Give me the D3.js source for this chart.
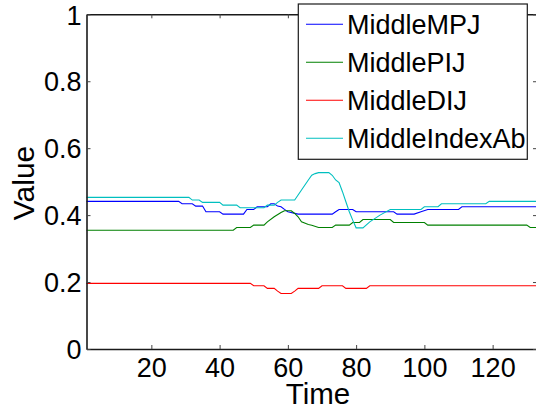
<!DOCTYPE html>
<html>
<head>
<meta charset="utf-8">
<script src="https://cdn.jsdelivr.net/npm/d3@7"></script>
<style>
  html, body { margin: 0; padding: 0; background: #fff; }
  svg text { font-family: "Liberation Sans", Arial, Helvetica, sans-serif; fill: #000; }
</style>
</head>
<body>
<svg id="chart" width="536" height="411"></svg>
<script>
// Joint-angle traces over time (breakpoints of each trace)
const seriesNames = ["MiddleMPJ", "MiddlePIJ", "MiddleDIJ", "MiddleIndexAb"];
const seriesColors = ["#0000ff", "#008000", "#ff0000", "#00bfbf"];

const mpjTime  = [1, 28, 29, 32, 33, 35, 36, 40, 41, 47, 48, 50, 51, 54, 55, 56, 57, 58, 59, 60, 63, 73, 74, 75, 79, 80, 91, 92, 97, 99, 101, 110, 111, 133];
const mpjValue = [0.441, 0.441, 0.434, 0.434, 0.427, 0.427, 0.410, 0.410, 0.403, 0.403, 0.417, 0.417, 0.425, 0.425, 0.434, 0.434, 0.427, 0.425, 0.417, 0.410, 0.403, 0.403, 0.410, 0.417, 0.417, 0.410, 0.410, 0.403, 0.403, 0.410, 0.417, 0.417, 0.425, 0.425];

const pijTime  = [1, 44, 45, 49, 50, 53, 54, 56, 58, 59, 61, 62, 63, 64, 66, 67, 69, 73, 74, 78, 79, 81, 82, 90, 91, 100, 101, 130, 131, 133];
const pijValue = [0.355, 0.355, 0.363, 0.363, 0.370, 0.370, 0.380, 0.395, 0.408, 0.413, 0.413, 0.405, 0.395, 0.380, 0.372, 0.370, 0.363, 0.363, 0.370, 0.370, 0.378, 0.378, 0.387, 0.387, 0.378, 0.378, 0.370, 0.370, 0.363, 0.363];

const dijTime  = [1, 49, 50, 53, 54, 56, 57, 58, 61, 62, 63, 69, 70, 76, 77, 83, 84, 133];
const dijValue = [0.196, 0.196, 0.189, 0.189, 0.181, 0.181, 0.173, 0.166, 0.166, 0.173, 0.181, 0.181, 0.189, 0.189, 0.181, 0.181, 0.189, 0.189];

const abTime  = [1, 31, 32, 34, 35, 40, 41, 45, 46, 53, 54, 56, 57, 58, 62, 63, 64, 66, 67, 68, 69, 72, 73, 74, 75, 76, 77, 78, 79, 80, 82, 84, 87, 90, 99, 100, 104, 105, 118, 119, 133];
const abValue = [0.453, 0.453, 0.445, 0.445, 0.438, 0.438, 0.430, 0.430, 0.422, 0.422, 0.430, 0.430, 0.438, 0.445, 0.445, 0.460, 0.475, 0.505, 0.519, 0.524, 0.527, 0.527, 0.519, 0.505, 0.497, 0.470, 0.440, 0.410, 0.385, 0.362, 0.362, 0.380, 0.400, 0.417, 0.417, 0.425, 0.425, 0.434, 0.434, 0.441, 0.441];

const xTicks = [20, 40, 60, 80, 100, 120];
const yTicks = [0, 0.2, 0.4, 0.6, 0.8, 1];
const yTickLabels = ["0", "0.2", "0.4", "0.6", "0.8", "1"];

const seriesTimes = [mpjTime, pijTime, dijTime, abTime];
const seriesValues = [mpjValue, pijValue, dijValue, abValue];

const frame = { left: 86.5, top: 14.3, right: 537, bottom: 349 };
const svg = d3.select("#chart");

const x = d3.scaleLinear().domain([1, 133]).range([frame.left, frame.right]);
const y = d3.scaleLinear().domain([0, 1]).range([frame.bottom, frame.top]);

// data traces
const traceLine = d3.line().x(d => x(d[0])).y(d => y(d[1]));
seriesNames.forEach((name, i) => {
  const pts = seriesTimes[i].map((t, k) => [t, seriesValues[i][k]]);
  svg.append("path")
    .datum(pts)
    .attr("d", traceLine)
    .attr("fill", "none")
    .attr("stroke", seriesColors[i])
    .attr("stroke-width", 1.1);
});

// axes (inward ticks on all four sides)
const fontSize = 27;
const axisColor = "#1a1a1a";

const axisBottomG = svg.append("g").attr("transform", `translate(0,${frame.bottom})`)
  .call(d3.axisBottom(x).tickValues(xTicks).tickSizeInner(-4).tickSizeOuter(0).tickPadding(9));
const axisTopG = svg.append("g").attr("transform", `translate(0,${frame.top})`)
  .call(d3.axisTop(x).tickValues(xTicks).tickSizeInner(-4).tickSizeOuter(0).tickFormat(""));
const axisLeftG = svg.append("g").attr("transform", `translate(${frame.left},0)`)
  .call(d3.axisLeft(y).tickValues(yTicks).tickSizeInner(-4).tickSizeOuter(0).tickPadding(9)
    .tickFormat((d, i) => yTickLabels[i]));
const axisRightG = svg.append("g").attr("transform", `translate(${frame.right},0)`)
  .call(d3.axisRight(y).tickValues(yTicks).tickSizeInner(-4).tickSizeOuter(0).tickFormat(""));

[axisBottomG, axisTopG, axisLeftG, axisRightG].forEach(g => {
  g.select(".domain").attr("stroke", axisColor).attr("stroke-width", 1.6);
  g.selectAll(".tick line").attr("stroke", "#444").attr("stroke-width", 1);
  g.selectAll(".tick text").attr("font-size", fontSize)
    .attr("font-family", "Liberation Sans, Arial, sans-serif").attr("fill", "#000");
});
axisBottomG.selectAll(".tick text").attr("dy", "0.71em").attr("y", 9);
axisLeftG.selectAll(".tick text").attr("dy", "0.36em").attr("x", -5);

// axis titles
svg.append("text")
  .attr("x", 318).attr("y", 403.5)
  .attr("text-anchor", "middle")
  .attr("font-size", 29.5)
  .text("Time");
svg.append("text")
  .attr("transform", `translate(34,183) rotate(-90)`)
  .attr("text-anchor", "middle")
  .attr("font-size", 30)
  .text("Value");

// legend
const legend = svg.append("g");
legend.append("rect")
  .attr("x", 298.3).attr("y", 4).attr("width", 229).attr("height", 155.3)
  .attr("fill", "#fff").attr("stroke", axisColor).attr("stroke-width", 1.2);
seriesNames.forEach((name, i) => {
  const cy = 24.3 + i * 38;
  legend.append("line")
    .attr("x1", 306).attr("x2", 343).attr("y1", cy).attr("y2", cy)
    .attr("stroke", seriesColors[i]).attr("stroke-width", 1.1);
  legend.append("text")
    .attr("x", 347).attr("y", cy).attr("dy", "0.36em")
    .attr("font-size", fontSize)
    .text(name);
});
</script>
</body>
</html>
